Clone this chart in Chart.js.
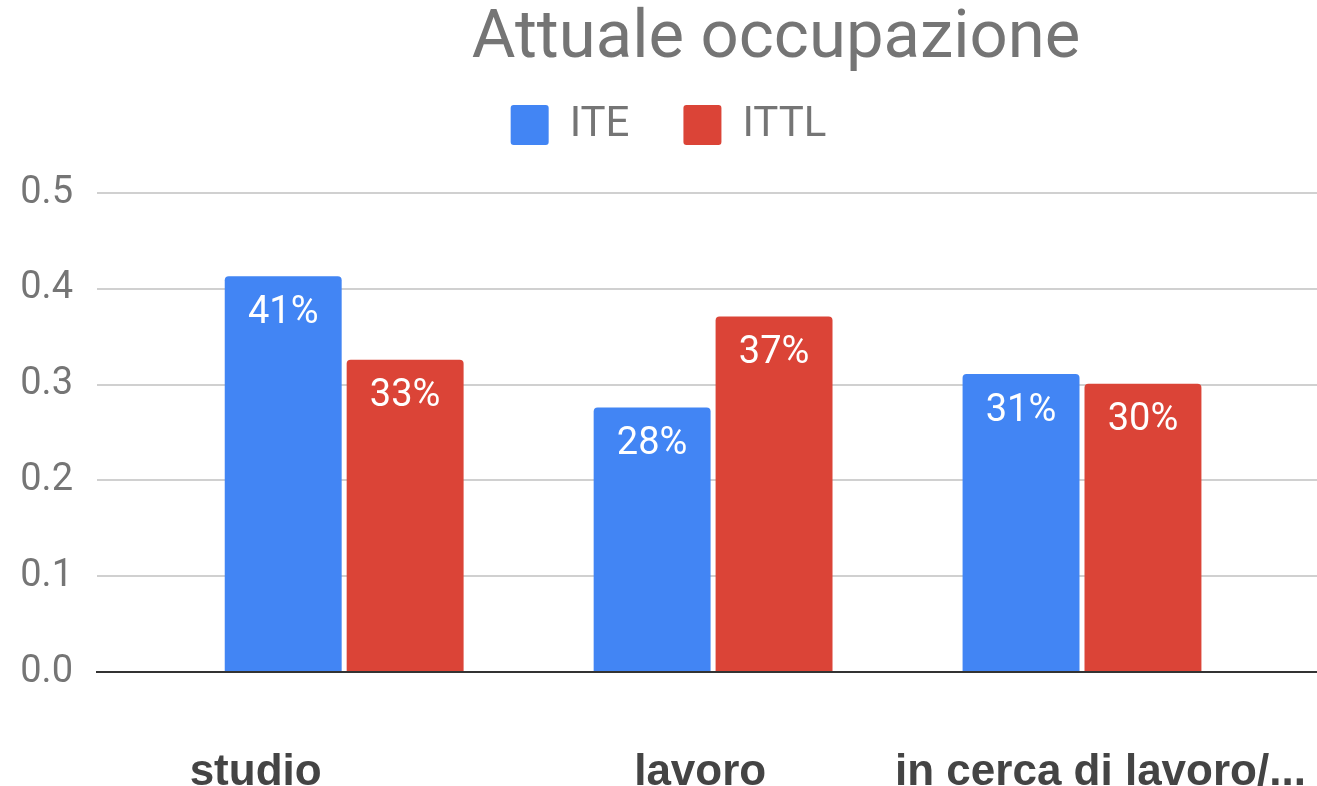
<!DOCTYPE html>
<html>
<head>
<meta charset="utf-8">
<script src="https://cdn.jsdelivr.net/npm/chart.js@4.4.1/dist/chart.umd.min.js"></script>
<style>
  html, body { margin: 0; padding: 0; background: #fff; }
  #wrap { width: 1317px; height: 786px; }
</style>
</head>
<body>
<div id="wrap"><canvas id="occChart"></canvas></div>
<script>
const categories = ['studio', 'lavoro', 'in cerca di lavoro/...'];
const iteValues = [0.413, 0.276, 0.311];
const ittlValues = [0.326, 0.371, 0.301];
const yTicks = [0, 0.1, 0.2, 0.3, 0.4, 0.5];

const greyText = '#757575';

// title is drawn by hand so it can sit off-centre like the original
const titlePlugin = {
    id: 'offTitle',
    afterDraw(chart) {
        const ctx = chart.ctx;
        ctx.save();
        ctx.font = '67px Roboto';
        ctx.fillStyle = greyText;
        ctx.textAlign = 'center';
        ctx.textBaseline = 'middle';
        ctx.fillText('Attuale occupazione', 776, 40);
        ctx.restore();
    }
};

// extra room under the legend
const legendSpacer = {
    id: 'legendSpacer',
    beforeInit(chart) {
        const fit = chart.legend.fit;
        chart.legend.fit = function () {
            fit.bind(chart.legend)();
            this.height += 37;
        };
    }
};

// percent labels inside the top of each bar
const barLabels = {
    id: 'barLabels',
    afterDatasetsDraw(chart) {
        const ctx = chart.ctx;
        ctx.save();
        ctx.font = '38px Roboto';
        ctx.fillStyle = '#ffffff';
        ctx.textAlign = 'center';
        ctx.textBaseline = 'middle';
        chart.data.datasets.forEach((ds, di) => {
            chart.getDatasetMeta(di).data.forEach((bar, i) => {
                const v = ds.data[i].y;
                ctx.fillText(Math.round(v * 100) + '%', bar.x, bar.y + 37);
            });
        });
        ctx.restore();
    }
};

const ctx = document.getElementById('occChart').getContext('2d');
new Chart(ctx, {
    type: 'bar',
    data: {
        datasets: [
            {
                label: 'ITE',
                data: iteValues.map((v, i) => ({ x: i, y: v })),
                backgroundColor: '#4285F4'
            },
            {
                label: 'ITTL',
                data: ittlValues.map((v, i) => ({ x: i, y: v })),
                backgroundColor: '#DB4437'
            }
        ]
    },
    options: {
        responsive: true,
        maintainAspectRatio: false,
        animation: false,
        layout: { padding: { top: 50, left: 20, right: 0, bottom: 0 } },
        datasets: {
            bar: {
                categoryPercentage: 0.661,
                barPercentage: 0.959,
                borderRadius: { topLeft: 4, topRight: 4 },
                borderSkipped: 'start'
            }
        },
        plugins: {
            title: { display: false },
            tooltip: { enabled: false },
            legend: {
                position: 'top',
                labels: {
                    boxWidth: 38,
                    boxHeight: 40,
                    useBorderRadius: true,
                    borderRadius: 3,
                    padding: 54,
                    color: greyText,
                    font: { family: 'Roboto', size: 42 }
                }
            }
        },
        scales: {
            x: {
                type: 'linear',
                offset: false,
                min: -0.67,
                max: 2.637,
                grid: { display: false, drawTicks: false },
                border: { display: true, color: '#333333', width: 2 },
                afterBuildTicks(scale) {
                    // label nudges to mimic the source layout
                    const nudge = [-0.24, -0.035, 0.05];
                    scale.ticks = categories.map((c, i) => ({ value: i + nudge[i] }));
                },
                afterFit(scale) {
                    scale.height = 114;
                    scale.paddingLeft = 0;
                    scale.paddingRight = 0;
                },
                ticks: {
                    autoSkip: false,
                    maxRotation: 0,
                    padding: 79,
                    color: '#444444',
                    font: { family: 'Liberation Sans', size: 44, weight: 'bold', lineHeight: 1 },
                    callback: (v, i) => categories[i]
                }
            },
            y: {
                min: 0,
                max: 0.5,
                afterBuildTicks(scale) {
                    scale.ticks = yTicks.map(v => ({ value: v }));
                },
                afterFit(scale) {
                    scale.width = 77;
                },
                grid: { color: '#d0d0d0', lineWidth: 2, drawTicks: false },
                border: { display: false },
                ticks: {
                    padding: 24,
                    color: greyText,
                    font: { family: 'Roboto', size: 38 },
                    callback: v => v.toFixed(1)
                }
            }
        }
    },
    plugins: [legendSpacer, titlePlugin, barLabels]
});
</script>
</body>
</html>
